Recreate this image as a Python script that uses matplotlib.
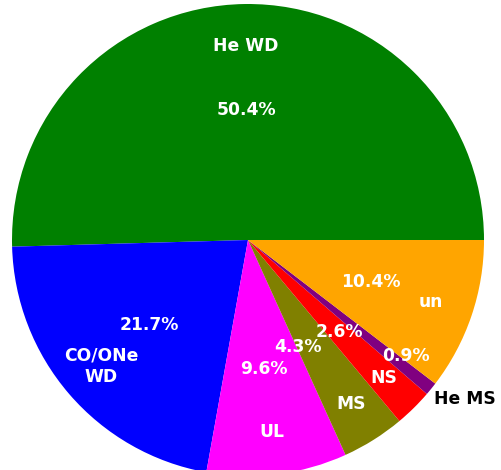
import numpy as np
import matplotlib
matplotlib.use("Agg")
import matplotlib.pyplot as plt

# population fractions (%)
labels = ["He WD", "CO/ONe\nWD", "UL", "MS", "NS", "He MS", "un"]
fractions = [50.4, 21.7, 9.6, 4.3, 2.6, 0.9, 10.4]
colors = ["green", "blue", "magenta", "olive", "red", "purple", "orange"]

fig = plt.figure(figsize=(5.02, 4.70), dpi=100)
W, H = 502, 470
cx, cy, r = 248, 240, 236
ax = fig.add_axes([(cx - r) / W, (H - cy - r) / H, 2 * r / W, 2 * r / H])

total = sum(fractions)
wedges, texts, autotexts = ax.pie(
    fractions, labels=labels, colors=colors, startangle=0,
    autopct=lambda p: f"{p * total / 100:.1f}%",
    pctdistance=0.55, labeldistance=0.82,
    textprops=dict(color="white", fontsize=12.3, fontweight="bold"),
)
ax.set_xlim(-1, 1)
ax.set_ylim(-1, 1)
ax.set_aspect("auto")

for t in list(texts) + list(autotexts):
    t.set_ha("center")
    t.set_va("center")
    t.set_multialignment("center")

# small slices: nudge labels so they don't collide
def polar(ang, d):
    a = np.deg2rad(ang)
    return d * np.cos(a), d * np.sin(a)

autotexts[3].set_position(polar(-65, 0.50))
autotexts[5].set_position(polar(-36.3, 0.83))
texts[5].set_position(polar(-36.2, 1.14))
texts[5].set_color("black")

fig.savefig("out.png", dpi=100)
